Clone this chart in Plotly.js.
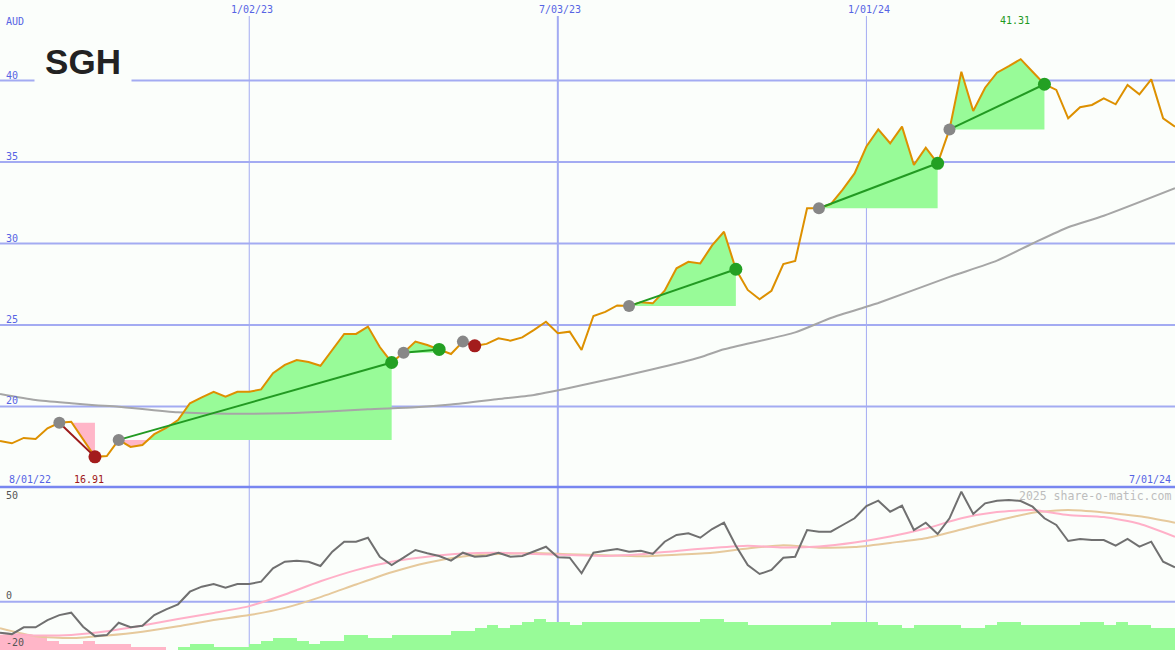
<!DOCTYPE html>
<html><head><meta charset="utf-8">
<script src="https://cdn.plot.ly/plotly-3.0.1.min.js"></script>
<style>html,body{margin:0;padding:0;background:#fbfefb;}#chart{width:1175px;height:650px;}</style>
</head><body><div id="chart"></div>
<script>
// ---------- data ----------
const symbol = 'SGH';
const currency = 'AUD';
const credit = '2025 share-o-matic.com';
const startLabel = '8/01/22';
const endLabel = '7/01/24';

const dates = [
'2022-08-08','2022-08-15','2022-08-22','2022-08-29','2022-09-05','2022-09-12','2022-09-19','2022-09-26','2022-10-03','2022-10-10',
'2022-10-17','2022-10-24','2022-10-31','2022-11-07','2022-11-14','2022-11-21','2022-11-28','2022-12-05','2022-12-12','2022-12-19',
'2022-12-26','2023-01-02','2023-01-09','2023-01-16','2023-01-23','2023-01-30','2023-02-06','2023-02-13','2023-02-20','2023-02-27',
'2023-03-06','2023-03-13','2023-03-20','2023-03-27','2023-04-03','2023-04-10','2023-04-17','2023-04-24','2023-05-01','2023-05-08',
'2023-05-15','2023-05-22','2023-05-29','2023-06-05','2023-06-12','2023-06-19','2023-06-26','2023-07-03','2023-07-10','2023-07-17',
'2023-07-24','2023-07-31','2023-08-07','2023-08-14','2023-08-21','2023-08-28','2023-09-04','2023-09-11','2023-09-18','2023-09-25',
'2023-10-02','2023-10-09','2023-10-16','2023-10-23','2023-10-30','2023-11-06','2023-11-13','2023-11-20','2023-11-27','2023-12-04',
'2023-12-11','2023-12-18','2023-12-25','2024-01-01','2024-01-08','2024-01-15','2024-01-22','2024-01-29','2024-02-05','2024-02-12',
'2024-02-19','2024-02-26','2024-03-04','2024-03-11','2024-03-18','2024-03-25','2024-04-01','2024-04-08','2024-04-15','2024-04-22',
'2024-04-29','2024-05-06','2024-05-13','2024-05-20','2024-05-27','2024-06-03','2024-06-10','2024-06-17','2024-06-24','2024-07-01'];

const price = [
17.88,17.74,18.07,18.00,18.66,19.00,19.06,17.95,16.91,16.96,
17.95,17.52,17.64,18.30,18.68,19.17,20.20,20.56,20.90,20.60,
20.90,20.90,21.05,22.04,22.55,22.85,22.73,22.50,23.50,24.45,
24.45,24.90,23.65,22.70,23.30,23.98,23.77,23.50,23.22,23.98,
23.72,23.84,24.18,24.04,24.24,24.70,25.20,24.49,24.59,23.47,
25.55,25.80,26.20,26.16,26.40,26.33,27.10,28.48,28.88,28.78,
29.88,30.72,28.42,27.15,26.58,27.10,28.74,28.93,32.16,32.16,
32.42,33.30,34.30,35.95,37.00,36.15,37.17,34.82,35.88,34.92,
37.00,40.54,38.13,39.56,40.48,40.88,41.31,40.54,39.77,39.42,
37.68,38.36,38.50,38.90,38.54,39.72,39.15,40.07,37.68,37.17];

// slow moving average of price (read at sparse dates)
const maDates = ['2022-08-08','2022-08-29','2022-09-19','2022-10-03','2022-10-17','2022-11-21','2022-12-26','2023-01-23','2023-02-20','2023-03-13',
'2023-04-10','2023-05-01','2023-05-29','2023-06-19','2023-07-17','2023-08-28','2023-09-25','2023-10-09','2023-11-20','2023-12-11',
'2024-01-01','2024-01-08','2024-02-19','2024-03-18','2024-04-08','2024-04-29','2024-05-20','2024-07-01'];
const maVals = [20.77,20.40,20.20,20.08,19.99,19.64,19.55,19.58,19.70,19.83,
19.95,20.12,20.46,20.71,21.30,22.28,23.02,23.51,24.55,25.43,
26.12,26.35,27.95,28.95,30.00,31.00,31.70,33.39];

// trades: entry / exit dates
const tradeStart = ['2022-09-12','2022-10-17','2023-04-03','2023-05-08','2023-08-14','2023-12-04','2024-02-19'];
const tradeEnd   = ['2022-10-03','2023-03-27','2023-04-24','2023-05-15','2023-10-16','2024-02-12','2024-04-15'];

// lower panel oscillator (weekly)
const osc = [
-15.5,-16.2,-12.8,-12.8,-9.2,-6.7,-5.5,-12.5,-17.2,-16.7,
-10.5,-12.8,-12.0,-6.7,-3.8,-1.3,5.0,7.5,8.85,7.0,
8.85,8.85,10.0,16.7,20.0,20.5,20.0,17.85,25.0,30.0,
30.0,32.0,22.5,18.35,22.0,25.85,24.2,22.85,20.5,24.5,
22.5,22.85,24.5,22.5,22.85,25.0,27.5,22.2,22.0,14.2,
24.5,25.5,26.35,25.0,25.5,23.85,30.0,33.35,34.2,32.0,
36.35,39.5,28.0,18.35,13.85,15.85,22.0,22.5,35.85,35.0,
35.0,38.35,41.7,47.85,50.5,45.0,48.0,35.85,39.5,33.85,
41.7,55.0,43.85,49.2,50.5,50.85,50.35,47.5,41.7,38.35,
30.35,31.35,30.85,30.85,28.0,31.35,27.5,30.0,20.0,17.2];

// oscillator averages (read every third week)
const sigDates = ['2022-08-08','2022-08-29','2022-09-19','2022-10-10','2022-10-31','2022-11-21','2022-12-12','2023-01-02','2023-01-23','2023-02-13',
'2023-03-06','2023-03-27','2023-04-17','2023-05-08','2023-05-29','2023-06-19','2023-07-10','2023-07-31','2023-08-21','2023-09-11',
'2023-10-02','2023-10-23','2023-11-13','2023-12-04','2023-12-25','2024-01-15','2024-02-05','2024-02-26','2024-03-18','2024-04-08',
'2024-04-29','2024-05-20','2024-06-10','2024-07-01'];
const fastAvg = [-15.8,-16.9,-16.6,-14.8,-11.9,-8.7,-5.6,-2.2,3.6,10.2,
15.8,20.0,22.5,24.1,24.5,23.8,23.3,22.9,23.7,25.4,
26.9,28.0,27.1,27.6,29.6,32.6,36.6,41.7,44.8,45.8,
43.3,42.3,39.0,32.5];
const slowAvg = [-13.3,-17.3,-18.2,-16.9,-15.0,-12.3,-9.2,-6.7,-3.1,2.3,
8.6,14.7,19.5,22.6,23.8,24.4,23.7,23.2,22.7,23.5,
24.5,26.6,28.2,27.0,27.3,29.4,31.7,36.1,40.5,44.5,
45.8,44.6,42.7,39.5];

// weekly histogram (negative = pink, positive = green)
const hist = [
-5,-5,-5,-5,-3,-2,-2,-3,-2,-2,
-2,-1,-1,-1,0,1,2,2,1,1,
1,2,3,4,4,3,2,3,3,5,
5,4,4,5,5,5,5,5,6,6,
7,8,7,8,9,10,9,9,8,9,
9,9,9,9,9,9,9,9,9,10,
10,9,9,8,8,8,8,8,8,8,
9,9,9,9,8,8,7,8,8,8,
8,7,7,8,9,9,8,8,8,8,
8,9,9,8,9,8,8,7,7,7];

const priceTicks = [20,25,30,35,40];
const oscTicks = [50,0,-20];
const dateTicks = ['2023-01-02','2023-07-03','2024-01-01'];
const dateTickText = ['1/02/23','7/03/23','1/01/24'];

// ---------- styles ----------
const W = 1175, H = 650, splitPx = 487;
const lowFrac = (H - splitPx) / H;
const bg = '#fbfefb';
const gridCol = '#a3abf2';
const blue = '#5664e4';
const mono = 'DejaVu Sans Mono';
const green = '#98fb98', pink = '#ffb6c8';
const vGridWidths = [1, 2, 1];
const oscLabelShift = [6, 6, -1];

function ms(d){ return Date.parse(d); }
function dstr(t){ return new Date(t).toISOString().slice(0,23).replace('T',' '); }
const idx = d => dates.indexOf(d);

const traces = [];
// trade fills
tradeStart.forEach((sd, i) => {
  const i0 = idx(sd), i1 = idx(tradeEnd[i]), base = price[i0];
  [1, -1].forEach(sign => {
    const xs = [], ys = [];
    for (let k = i0; k <= i1; k++) {
      xs.push(dates[k]);
      ys.push(sign > 0 ? Math.max(price[k], base) : Math.min(price[k], base));
      if (k < i1) {
        const a = price[k] - base, b = price[k+1] - base;
        if (a * b < 0) {
          const f = a / (a - b);
          xs.push(dstr(ms(dates[k]) + f * (ms(dates[k+1]) - ms(dates[k]))));
          ys.push(base);
        }
      }
    }
    xs.push(dates[i1]); ys.push(base); xs.push(dates[i0]); ys.push(base);
    traces.push({type:'scatter', mode:'lines', x:xs, y:ys, fill:'toself',
      fillcolor: sign > 0 ? green : pink, line:{width:0}, hoverinfo:'skip'});
  });
});
// moving average
traces.push({type:'scatter', mode:'lines', x:maDates, y:maVals,
  line:{color:'#a6a6a6', width:2, shape:'spline', smoothing:0.6}, hoverinfo:'skip'});
// price
traces.push({type:'scatter', mode:'lines', x:dates, y:price,
  line:{color:'#dd9000', width:2}, hoverinfo:'skip'});
// trade lines
const endColors = [];
tradeStart.forEach((sd, i) => {
  const i0 = idx(sd), i1 = idx(tradeEnd[i]);
  const up = price[i1] >= price[i0];
  endColors.push(up ? '#23a023' : '#a31c1c');
  traces.push({type:'scatter', mode:'lines', x:[dates[i0], dates[i1]], y:[price[i0], price[i1]],
    line:{color: up ? '#229a22' : '#9c1a1a', width:2}, hoverinfo:'skip'});
});
traces.push({type:'scatter', mode:'markers', x:tradeStart, y:tradeStart.map(d => price[idx(d)]),
  marker:{size:12, color:'#878787'}, hoverinfo:'skip'});
traces.push({type:'scatter', mode:'markers', x:tradeEnd, y:tradeEnd.map(d => price[idx(d)]),
  marker:{size:13, color:endColors}, hoverinfo:'skip'});

// lower panel
traces.push({type:'bar', x:dates, y:hist.map(Math.abs), yaxis:'y2',
  marker:{color:hist.map(v => v < 0 ? pink : green), line:{width:0}},
  width:7*864e5, offset:0, hoverinfo:'skip'});
traces.push({type:'scatter', mode:'lines', x:sigDates, y:slowAvg, yaxis:'y3',
  line:{color:'#e6c99c', width:2, shape:'spline', smoothing:0.6}, hoverinfo:'skip'});
traces.push({type:'scatter', mode:'lines', x:sigDates, y:fastAvg, yaxis:'y3',
  line:{color:'#ffb0c8', width:2, shape:'spline', smoothing:0.6}, hoverinfo:'skip'});
traces.push({type:'scatter', mode:'lines', x:dates, y:osc, yaxis:'y3',
  line:{color:'#707070', width:2}, hoverinfo:'skip'});

// ---------- shapes ----------
const shapes = [];
priceTicks.forEach(v => shapes.push({type:'line', layer:'below', xref:'paper', x0:0, x1:1, yref:'y', y0:v, y1:v,
  line:{color:gridCol, width:2}}));
shapes.push({type:'line', layer:'below', xref:'paper', x0:0, x1:1, yref:'y3', y0:0, y1:0, line:{color:gridCol, width:2}});
dateTicks.forEach((d, i) => shapes.push({type:'line', layer:'below', xref:'x', x0:d, x1:d, yref:'paper', y0:0, y1:1 - 16/H,
  line:{color:gridCol, width:vGridWidths[i]}}));
shapes.push({type:'line', layer:'below', xref:'paper', x0:0, x1:1, yref:'paper', y0:lowFrac, y1:lowFrac,
  line:{color:'#7886f0', width:2.5}});

// ---------- annotations ----------
const ann = [];
const txt = (o) => Object.assign({showarrow:false, borderpad:0}, o);
ann.push(txt({text:'<b>' + symbol + '</b>', xref:'paper', yref:'paper', x:83/W, y:1 - 61/H,
  xanchor:'center', yanchor:'middle', width:96, height:46, bgcolor:bg,
  font:{family:'Liberation Sans, Arial, sans-serif', size:35, color:'#222222'}}));
ann.push(txt({text:currency, xref:'paper', yref:'paper', x:5/W, y:1 - 21.5/H, xanchor:'left', yanchor:'middle',
  font:{family:mono, size:10, color:blue}}));
priceTicks.forEach(v => ann.push(txt({text:String(v), xref:'paper', yref:'y', x:5/W, y:v, xanchor:'left', yanchor:'middle',
  yshift:5.5, font:{family:mono, size:10, color:blue}})));
dateTicks.forEach((d, i) => ann.push(txt({text:dateTickText[i], xref:'x', yref:'paper', x:d, y:1 - 9.2/H,
  xanchor:'center', yanchor:'middle', xshift:2.5, font:{family:mono, size:10, color:blue}})));
ann.push(txt({text:startLabel, xref:'paper', yref:'paper', x:8/W, y:1 - 479/H, xanchor:'left', yanchor:'middle',
  font:{family:mono, size:10, color:blue}}));
ann.push(txt({text:endLabel, xref:'paper', yref:'paper', x:1172/W, y:1 - 479/H, xanchor:'right', yanchor:'middle',
  font:{family:mono, size:10, color:blue}}));
const maxP = Math.max(...price), minP = Math.min(...price);
ann.push(txt({text:maxP.toFixed(2), xref:'x', yref:'paper', x:dates[price.indexOf(maxP)], y:1 - 21/H,
  xanchor:'center', yanchor:'middle', xshift:-6, font:{family:mono, size:10, color:'#1f9a1f'}}));
ann.push(txt({text:minP.toFixed(2), xref:'x', yref:'paper', x:dates[price.indexOf(minP)], y:1 - 479/H,
  xanchor:'center', yanchor:'middle', xshift:-6, font:{family:mono, size:10, color:'#a01818'}}));
ann.push(txt({text:credit, xref:'paper', yref:'paper', x:1172/W, y:1 - 496/H, xanchor:'right', yanchor:'middle',
  font:{family:mono, size:11.5, color:'#bdbdbd'}}));
oscTicks.forEach((v, i) => ann.push(txt({text:String(v), xref:'paper', yref:'y3', x:5/W, y:v, xanchor:'left', yanchor:'middle',
  yshift:oscLabelShift[i], font:{family:mono, size:10, color:'#555555'}})));

const hidden = {showgrid:false, zeroline:false, showticklabels:false, ticks:'', showline:false, fixedrange:true};
const layout = {
  width:W, height:H, margin:{l:0, r:0, t:0, b:0}, paper_bgcolor:bg, plot_bgcolor:bg, showlegend:false,
  bargap:0,
  xaxis:Object.assign({type:'date', range:['2022-08-08','2024-07-01']}, hidden),
  yaxis:Object.assign({domain:[lowFrac, 1], range:[15.06, 44.94]}, hidden),
  yaxis2:Object.assign({domain:[0, lowFrac], range:[0, 163/3.1], anchor:'x'}, hidden),
  yaxis3:Object.assign({overlaying:'y2', range:[-24.15, 57.35], anchor:'x'}, hidden),
  shapes:shapes, annotations:ann
};
Plotly.newPlot('chart', traces, layout, {staticPlot:true, displayModeBar:false});
</script></body></html>
